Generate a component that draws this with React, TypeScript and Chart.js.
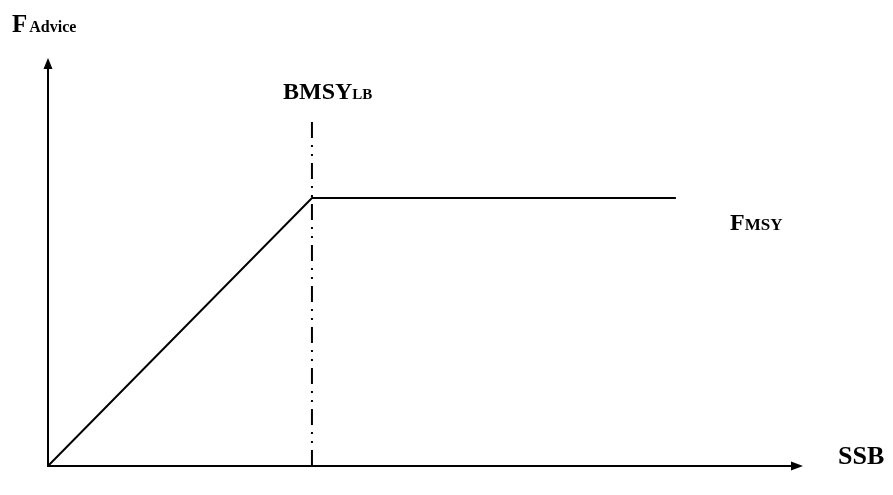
import React, { useEffect, useRef } from "react";
import { Chart, registerables } from "chart.js";

Chart.register(...registerables);

// Harvest control rule: SSB (x) vs F advice (y), arbitrary units 0..100
const ssbValues = [0, 35.1, 83.5];
const fAdviceValues = [0, 65.7, 65.7];
const bmsyX = [35.1, 35.1];
const bmsyY = [0, 85.3];

const yAxisLabel = "F";
const yAxisSub = "Advice";
const xAxisLabel = "SSB";
const bmsyLabel = "BMSY";
const bmsySub = "LB";
const fmsyLabel = "F";
const fmsySub = "MSY";

const FONT = "'Liberation Serif', 'Times New Roman', serif";

const overlay = {
  id: "hcrOverlay",
  afterDraw(chart: any) {
    const ctx = chart.ctx;
    const xs = chart.scales.x;
    const ys = chart.scales.y;
    const x0 = xs.getPixelForValue(0);
    const y0 = ys.getPixelForValue(0);
    const xEnd = xs.getPixelForValue(100);
    const yEnd = ys.getPixelForValue(100);
    ctx.save();
    ctx.strokeStyle = "#000";
    ctx.fillStyle = "#000";
    ctx.lineWidth = 2;
    ctx.setLineDash([]);
    // x axis
    ctx.beginPath();
    ctx.moveTo(x0 - 1, y0);
    ctx.lineTo(xEnd - 6, y0);
    ctx.stroke();
    ctx.beginPath();
    ctx.moveTo(xEnd + 3, y0);
    ctx.lineTo(xEnd - 9, y0 - 4.5);
    ctx.lineTo(xEnd - 9, y0 + 4.5);
    ctx.closePath();
    ctx.fill();
    // y axis
    ctx.beginPath();
    ctx.moveTo(x0, y0 + 1);
    ctx.lineTo(x0, yEnd + 8);
    ctx.stroke();
    ctx.beginPath();
    ctx.moveTo(x0, yEnd);
    ctx.lineTo(x0 - 4.5, yEnd + 11);
    ctx.lineTo(x0 + 4.5, yEnd + 11);
    ctx.closePath();
    ctx.fill();

    ctx.textBaseline = "alphabetic";
    ctx.textAlign = "left";
    const drawSub = (main: string, sub: string, x: number, y: number, mainSize: number, subSize: number, gap: number) => {
      ctx.font = `bold ${mainSize}px ${FONT}`;
      ctx.fillText(main, x, y);
      const w = ctx.measureText(main).width;
      ctx.font = `bold ${subSize}px ${FONT}`;
      ctx.fillText(sub, x + w + gap, y);
    };
    drawSub(yAxisLabel, yAxisSub, 12, 32, 25, 16, 2);
    drawSub(bmsyLabel, bmsySub, 283, 99, 24, 15, 0);
    drawSub(fmsyLabel, fmsySub, 730, 230, 24, 17, 0);
    ctx.font = `bold 26px ${FONT}`;
    ctx.fillText(xAxisLabel, 838, 464);
    ctx.restore();
  },
};

export default function App() {
  const ref = useRef<HTMLCanvasElement>(null);
  useEffect(() => {
    document.body.style.margin = "0";
    const canvas = ref.current!;
    const chart = new Chart(canvas, {
      type: "scatter",
      data: {
        datasets: [
          {
            data: ssbValues.map((x, i) => ({ x, y: fAdviceValues[i] })),
            showLine: true,
            borderColor: "#000",
            borderWidth: 2,
            pointRadius: 0,
            borderJoinStyle: "miter",
          } as any,
          {
            data: bmsyX.map((x, i) => ({ x, y: bmsyY[i] })),
            showLine: true,
            borderColor: "#000",
            borderWidth: 2,
            pointRadius: 0,
            borderDash: [16, 7, 2, 7, 2, 7],
          } as any,
        ],
      },
      options: {
        animation: false,
        responsive: false,
        events: [],
        layout: { padding: { left: 48, right: 93, top: 58, bottom: 29 } },
        plugins: { legend: { display: false }, tooltip: { enabled: false } },
        scales: {
          x: { type: "linear", min: 0, max: 100, display: false },
          y: { type: "linear", min: 0, max: 100, display: false },
        },
      },
      plugins: [overlay],
    });
    return () => chart.destroy();
  }, []);
  return (
    <div style={{ width: 893, height: 495, background: "#fff" }}>
      <canvas ref={ref} width={893} height={495} style={{ display: "block" }} />
    </div>
  );
}
